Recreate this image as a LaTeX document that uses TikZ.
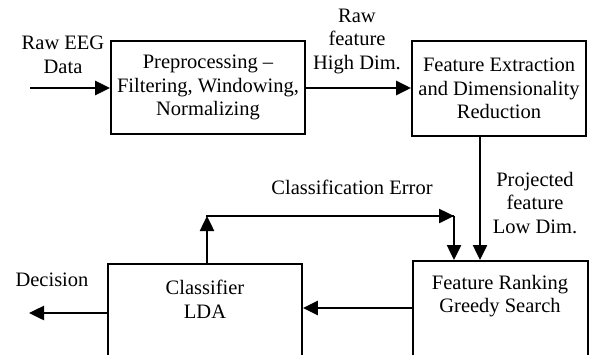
\documentclass[tikz,border=0pt]{standalone}
\usepackage{fontspec}
\setmainfont{Liberation Serif}
\usetikzlibrary{arrows.meta}
\begin{document}
\begin{tikzpicture}[x=1pt,y=-1pt,
  box/.style={draw, line width=1.8pt, rectangle, inner sep=0pt},
  txt/.style={align=center, inner sep=0pt, font=\fontsize{20.5}{23.5}\selectfont},
  arr/.style={line width=2.5pt, -{Triangle[length=15pt,width=14pt]}},
  ln/.style={line width=2.5pt}]
\useasboundingbox (0,0) rectangle (589,354);
\clip (0,0) rectangle (589,354);
% boxes
\node[box, minimum width=194pt, minimum height=93pt, txt] (pre) at (208,87.5) {Preprocessing --\\Filtering, Windowing,\\Normalizing};
\node[box, minimum width=174pt, minimum height=95pt, txt] (fe) at (499,88.5) {Feature Extraction\\and Dimensionality\\Reduction};
\node[box, minimum width=175pt, minimum height=98pt, anchor=north] (fr) at (500.5,260) {};
\node[txt] (frt) at (500,296) {Feature Ranking\\Greedy Search};
\node[box, minimum width=194pt, minimum height=98pt, anchor=north] (cl) at (205,263) {};
\node[txt] (clt) at (205,299.5) {Classifier\\LDA};
% labels
\node[txt] (l1) at (63,55) {Raw EEG\\Data};
\node[txt] (l2) at (357,41) {Raw\\feature\\High Dim.};
\node[txt] (l3) at (535,203) {Projected\\feature\\Low Dim.};
\node[txt] (l4) at (352,187) {Classification Error};
\node[txt] (l5) at (52,280) {Decision};
% coordinates
\coordinate (in) at (30,88);
\coordinate (out) at (29,313);
\coordinate (up) at (207,216);
\coordinate (rt) at (454,216);
% connectors
\draw[arr] (in) -- (in -| pre.west);
\draw[arr] (pre.east |- 0,88) -- (fe.west |- 0,88);
\draw[arr] (fe.south -| 480,0) -- (fr.north -| 480,0);
\draw[arr] (fr.west |- 0,308) -- (cl.east |- 0,308);
\draw[arr] (cl.west |- out) -- (out);
\draw[arr] (cl.north -| up) -- (up);
\draw[ln] (up) -- (rt);
\draw[arr] ([xshift=-1pt]up) -- (rt);
\draw[arr] (rt) -- (fr.north -| rt);
\end{tikzpicture}
\end{document}
